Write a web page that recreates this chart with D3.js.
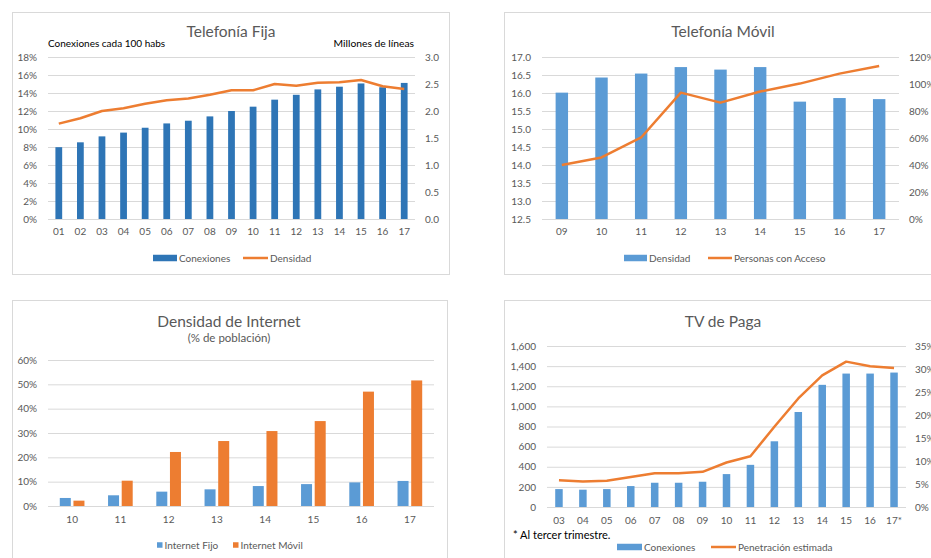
<!DOCTYPE html>
<html>
<head>
<meta charset="utf-8">
<script src="https://cdn.jsdelivr.net/npm/d3@7"></script>
<style>
  html, body { margin: 0; padding: 0; background: #fff; }
  svg { display: block; font-family: Lato, "Liberation Sans", sans-serif; }
</style>
</head>
<body>
<svg id="chart" width="931" height="558"></svg>
<script>
// ---- Telefonía Fija ----
const fijaYears = ['01','02','03','04','05','06','07','08','09','10','11','12','13','14','15','16','17'];
const fijaConexiones = [1.33, 1.42, 1.53, 1.60, 1.69, 1.77, 1.82, 1.90, 2.00, 2.08, 2.21, 2.30, 2.40, 2.45, 2.51, 2.44, 2.52];
const fijaDensidad = [10.6, 11.2, 12.0, 12.3, 12.8, 13.2, 13.4, 13.8, 14.3, 14.3, 15.0, 14.8, 15.15, 15.2, 15.45, 14.75, 14.45];
const fijaLeftTicks = [0, 2, 4, 6, 8, 10, 12, 14, 16, 18];
const fijaRightTicks = [0, 0.5, 1.0, 1.5, 2.0, 2.5, 3.0];

// ---- Telefonía Móvil ----
const movilYears = ['09','10','11','12','13','14','15','16','17'];
const movilDensidad = [16.01, 16.43, 16.54, 16.72, 16.65, 16.72, 15.76, 15.86, 15.83];
const movilAcceso = [40.0, 45.6, 60.4, 93.6, 86.2, 94.4, 100.3, 107.7, 113.4];
const movilLeftTicks = [12.5, 13.0, 13.5, 14.0, 14.5, 15.0, 15.5, 16.0, 16.5, 17.0];
const movilRightTicks = [0, 20, 40, 60, 80, 100, 120];

// ---- Densidad de Internet ----
const internetYears = ['10','11','12','13','14','15','16','17'];
const internetFijo = [3.3, 4.4, 5.9, 6.85, 8.2, 9.0, 9.7, 10.3];
const internetMovil = [2.2, 10.4, 22.2, 26.7, 30.8, 34.9, 47.0, 51.6];
const internetTicks = [0, 10, 20, 30, 40, 50, 60];

// ---- TV de Paga ----
const tvYears = ['03','04','05','06','07','08','09','10','11','12','13','14','15','16','17*'];
const tvConexiones = [178, 172, 178, 208, 241, 241, 251, 327, 419, 653, 944, 1214, 1326, 1326, 1336];
const tvPenetracion = [5.84, 5.56, 5.7, 6.5, 7.36, 7.36, 7.65, 9.67, 11.04, 17.46, 23.6, 28.6, 31.6, 30.6, 30.2];
const tvLeftTicks = [0, 200, 400, 600, 800, 1000, 1200, 1400, 1600];
const tvRightTicks = [0, 5, 10, 15, 20, 25, 30, 35];

const BLUE_DARK = '#2E75B6';
const BLUE = '#5B9BD5';
const ORANGE = '#ED7D31';
const GRID = '#D9D9D9';
const TEXT = '#595959';
const TICK_FS = 10;
const TITLE_FS = 15.5;

const svg = d3.select('#chart');

function frame(x0, y0, x1, y1) {
  svg.append('rect')
    .attr('x', x0 + 0.5).attr('y', y0 + 0.5)
    .attr('width', x1 - x0).attr('height', y1 - y0)
    .attr('fill', '#fff').attr('stroke', GRID).attr('stroke-width', 1);
}

function title(cx, y, text, size) {
  svg.append('text').attr('x', cx).attr('y', y)
    .attr('text-anchor', 'middle').attr('fill', TEXT)
    .attr('font-size', size).text(text);
}

// Horizontal gridlines + left tick labels
function leftAxis(g, y, ticks, x0, x1, fmt) {
  const grid = g.append('g').attr('transform', `translate(${x1},0)`)
    .call(d3.axisLeft(y).tickValues(ticks).tickSize(x1 - x0).tickFormat(''));
  grid.select('.domain').remove();
  grid.selectAll('line').attr('stroke', GRID);
  const lab = g.append('g').attr('transform', `translate(${x0},0)`)
    .call(d3.axisLeft(y).tickValues(ticks).tickFormat(fmt).tickSize(0).tickPadding(11));
  lab.select('.domain').remove();
  lab.selectAll('text').attr('fill', TEXT).attr('font-size', TICK_FS)
    .attr('font-family', 'Lato, sans-serif');
}

function rightAxis(g, y, ticks, x, pad, fmt) {
  const lab = g.append('g').attr('transform', `translate(${x},0)`)
    .call(d3.axisRight(y).tickValues(ticks).tickFormat(fmt).tickSize(0).tickPadding(pad));
  lab.select('.domain').remove();
  lab.selectAll('text').attr('fill', TEXT).attr('font-size', TICK_FS)
    .attr('font-family', 'Lato, sans-serif');
}

function bottomAxis(g, x, yPos, pad) {
  const lab = g.append('g').attr('transform', `translate(0,${yPos})`)
    .call(d3.axisBottom(x).tickSize(0).tickPadding(pad));
  lab.select('.domain').remove();
  lab.selectAll('text').attr('fill', TEXT).attr('font-size', TICK_FS)
    .attr('font-family', 'Lato, sans-serif');
}

function legendBox(x, y, w, h, color, label) {
  svg.append('rect').attr('x', x).attr('y', y - h / 2).attr('width', w).attr('height', h).attr('fill', color);
  svg.append('text').attr('x', x + w + 2).attr('y', y + 3.5)
    .attr('fill', TEXT).attr('font-size', TICK_FS).text(label);
}
function legendLine(x, y, w, color, label) {
  svg.append('line').attr('x1', x).attr('x2', x + w).attr('y1', y).attr('y2', y)
    .attr('stroke', color).attr('stroke-width', 2.5);
  svg.append('text').attr('x', x + w + 2).attr('y', y + 3.5)
    .attr('fill', TEXT).attr('font-size', TICK_FS).text(label);
}

// ================= Panel 1: Telefonía Fija =================
(function () {
  frame(12, 12, 449, 274);
  const x0 = 48, x1 = 415, yTop = 57, yBot = 219;
  const g = svg.append('g');
  const x = d3.scaleBand().domain(fijaYears).range([x0, x1]);
  const yL = d3.scaleLinear().domain([0, 18]).range([yBot, yTop]);
  const yR = d3.scaleLinear().domain([0, 3]).range([yBot, yTop]);
  leftAxis(g, yL, fijaLeftTicks, x0, x1, d => d + '%');
  rightAxis(g, yR, fijaRightTicks, x1, 10, d3.format('.1f'));
  const bw = x.bandwidth() / 3.19;
  g.selectAll('.bar').data(fijaYears).enter().append('rect')
    .attr('x', d => x(d) + x.bandwidth() / 2 - bw / 2)
    .attr('y', (d, i) => yR(fijaConexiones[i]))
    .attr('width', bw)
    .attr('height', (d, i) => yBot - yR(fijaConexiones[i]))
    .attr('fill', BLUE_DARK);
  g.append('path').datum(fijaDensidad)
    .attr('d', d3.line().x((d, i) => x(fijaYears[i]) + x.bandwidth() / 2).y(d => yL(d)))
    .attr('fill', 'none').attr('stroke', ORANGE).attr('stroke-width', 2.5).attr('stroke-linejoin', 'round');
  bottomAxis(g, x, yBot, 9);
  title(231, 37, 'Telefonía Fija', TITLE_FS);
  svg.append('text').attr('x', 48).attr('y', 47).attr('font-size', 10).attr('fill', '#000')
    .text('Conexiones cada 100 habs');
  svg.append('text').attr('x', 414).attr('y', 47).attr('text-anchor', 'end').attr('font-size', 10.3).attr('fill', '#000')
    .text('Millones de líneas');
  legendBox(153, 258, 24, 6.5, BLUE_DARK, 'Conexiones');
  legendLine(243, 258, 25, ORANGE, 'Densidad');
})();

// ================= Panel 2: Telefonía Móvil =================
(function () {
  frame(504, 12, 945, 274);
  const x0 = 542, x1 = 899, yTop = 57, yBot = 219;
  const g = svg.append('g');
  const x = d3.scaleBand().domain(movilYears).range([x0, x1]);
  const yL = d3.scaleLinear().domain([12.5, 17]).range([yBot, yTop]);
  const yR = d3.scaleLinear().domain([0, 120]).range([yBot, yTop]);
  leftAxis(g, yL, movilLeftTicks, x0, x1, d3.format('.1f'));
  rightAxis(g, yR, movilRightTicks, x1, 10, d => d + '%');
  const bw = x.bandwidth() / 3.19;
  g.selectAll('.bar').data(movilYears).enter().append('rect')
    .attr('x', d => x(d) + x.bandwidth() / 2 - bw / 2)
    .attr('y', (d, i) => yL(movilDensidad[i]))
    .attr('width', bw)
    .attr('height', (d, i) => yBot - yL(movilDensidad[i]))
    .attr('fill', BLUE);
  g.append('path').datum(movilAcceso)
    .attr('d', d3.line().x((d, i) => x(movilYears[i]) + x.bandwidth() / 2).y(d => yR(d)))
    .attr('fill', 'none').attr('stroke', ORANGE).attr('stroke-width', 2.5).attr('stroke-linejoin', 'round');
  bottomAxis(g, x, yBot, 9);
  title(723, 37, 'Telefonía Móvil', TITLE_FS);
  legendBox(624, 258, 23, 6.5, BLUE, 'Densidad');
  legendLine(708, 258, 24, ORANGE, 'Personas con Acceso');
})();

// ================= Panel 3: Densidad de Internet =================
(function () {
  frame(12, 300, 447, 575);
  const x0 = 48, x1 = 434, yTop = 360, yBot = 506;
  const g = svg.append('g');
  const x = d3.scaleBand().domain(internetYears).range([x0, x1]);
  const y = d3.scaleLinear().domain([0, 60]).range([yBot, yTop]);
  leftAxis(g, y, internetTicks, x0, x1, d => d + '%');
  const bw = x.bandwidth() * 0.228, gap = x.bandwidth() * 0.055;
  const series = [[internetFijo, BLUE, -1], [internetMovil, ORANGE, 1]];
  series.forEach(([vals, color, side]) => {
    g.selectAll(null).data(internetYears).enter().append('rect')
      .attr('x', d => {
        const c = x(d) + x.bandwidth() / 2;
        return side < 0 ? c - gap / 2 - bw : c + gap / 2;
      })
      .attr('y', (d, i) => y(vals[i]))
      .attr('width', bw)
      .attr('height', (d, i) => yBot - y(vals[i]))
      .attr('fill', color);
  });
  bottomAxis(g, x, yBot, 10);
  title(229, 327, 'Densidad de Internet', TITLE_FS);
  title(229, 342, '(% de población)', 11.5);
  legendBox(157, 545, 5.5, 5.5, BLUE, 'Internet Fijo');
  legendBox(233, 545, 5.5, 5.5, ORANGE, 'Internet Móvil');
})();

// ================= Panel 4: TV de Paga =================
(function () {
  frame(504, 300, 945, 575);
  const x0 = 547, x1 = 906, yTop = 346, yBot = 507;
  const g = svg.append('g');
  const x = d3.scaleBand().domain(tvYears).range([x0, x1]);
  const yL = d3.scaleLinear().domain([0, 1600]).range([yBot, yTop]);
  const yR = d3.scaleLinear().domain([0, 35]).range([yBot, yTop]);
  leftAxis(g, yL, tvLeftTicks, x0, x1, d3.format(','));
  rightAxis(g, yR, tvRightTicks, x1, 9, d => d + '%');
  const bw = x.bandwidth() / 3.19;
  g.selectAll('.bar').data(tvYears).enter().append('rect')
    .attr('x', d => x(d) + x.bandwidth() / 2 - bw / 2)
    .attr('y', (d, i) => yL(tvConexiones[i]))
    .attr('width', bw)
    .attr('height', (d, i) => yBot - yL(tvConexiones[i]))
    .attr('fill', BLUE);
  g.append('path').datum(tvPenetracion)
    .attr('d', d3.line().x((d, i) => x(tvYears[i]) + x.bandwidth() / 2).y(d => yR(d)))
    .attr('fill', 'none').attr('stroke', ORANGE).attr('stroke-width', 2.5).attr('stroke-linejoin', 'round');
  bottomAxis(g, x, yBot, 10);
  title(723, 327, 'TV de Paga', TITLE_FS);
  svg.append('text').attr('x', 513).attr('y', 539).attr('font-size', 11).attr('fill', '#000')
    .text('* Al tercer trimestre.');
  legendBox(617, 547, 25, 6.5, BLUE, 'Conexiones');
  legendLine(711, 547, 25, ORANGE, 'Penetración estimada');
})();
</script>
</body>
</html>
